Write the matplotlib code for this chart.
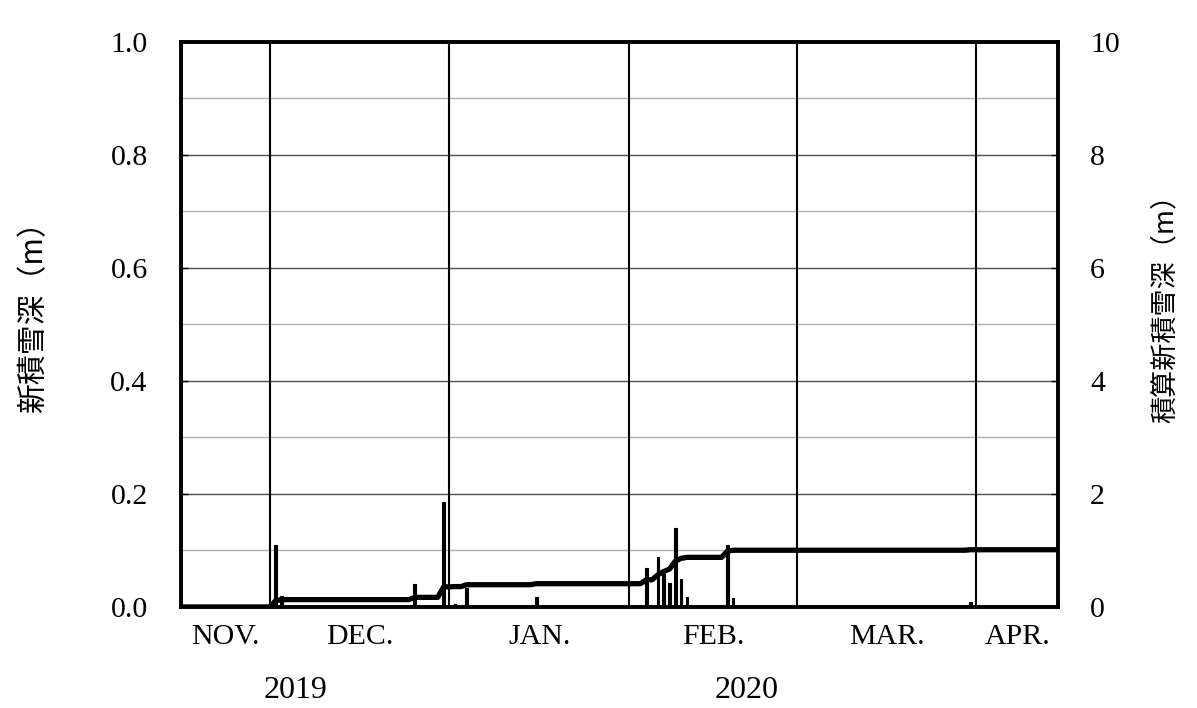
import matplotlib
matplotlib.use('Agg')
import matplotlib.pyplot as plt
import matplotlib.transforms as mtransforms
import numpy as np
import pandas as pd

# daily new snow depth (m) on days with snowfall
snow_dates = ['2019-12-02', '2019-12-03', '2019-12-26', '2019-12-31', '2020-01-02',
              '2020-01-04', '2020-01-16', '2020-02-04', '2020-02-06', '2020-02-07',
              '2020-02-08', '2020-02-09', '2020-02-10', '2020-02-11', '2020-02-18',
              '2020-02-19', '2020-03-31']
new_snow = [0.11, 0.02, 0.04, 0.186, 0.005,
            0.033, 0.018, 0.069, 0.089, 0.058,
            0.042, 0.14, 0.05, 0.018, 0.11,
            0.016, 0.009]

month_labels = ['NOV.', 'DEC.', 'JAN.', 'FEB.', 'MAR.', 'APR.']
month_starts = ['2019-12-01', '2020-01-01', '2020-02-01', '2020-03-01', '2020-04-01']
year_labels = ['2019', '2020']
year_label_dates = ['2019-12-05 10:00', '2020-02-21 06:00']

season_start = pd.Timestamp('2019-11-15 16:00')
season_end = pd.Timestamp('2020-04-15 02:00')

# build the daily record and the accumulated total
days = pd.date_range('2019-11-15', '2020-04-15', freq='D')
daily = pd.Series(0.0, index=days)
daily.loc[pd.to_datetime(snow_dates)] = new_snow
accum = daily.cumsum()

serif = 'Liberation Serif'
jp = ['Noto Sans CJK JP', 'DejaVu Sans']

fig = plt.figure(figsize=(11.97, 7.08), dpi=100)
ax = fig.add_axes([0.1512, 0.1427, 0.8839 - 0.1512, 0.9407 - 0.1427])
ax2 = ax.twinx()

# horizontal grid: darker every 0.2, lighter in between
for y in np.arange(0.1, 1.0, 0.1):
    major = round(y * 10) % 2 == 0
    ax.axhline(y, color='#505050' if major else '#b0b0b0', lw=1.0, zorder=1)

for m in pd.to_datetime(month_starts):
    ax.axvline(m, color='black', lw=1.5, zorder=2)

ax.bar(pd.to_datetime(snow_dates), new_snow, width=0.45, color='black',
       edgecolor='black', lw=0.8, zorder=3)
ax2.plot(accum.index, accum.values, color='black', lw=3.8, solid_joinstyle='round')

ax.set_xlim(season_start, season_end)
ax.set_ylim(0, 1.0)
ax2.set_ylim(0, 10)

ax.set_yticks(np.arange(0, 1.01, 0.2))
ax.set_yticklabels([f'{v:.1f}' for v in np.arange(0, 1.01, 0.2)],
                   fontfamily=serif, fontsize=21.5)
ax2.set_yticks(np.arange(0, 11, 2))
ax2.set_yticklabels([str(v) for v in range(0, 11, 2)], fontfamily=serif, fontsize=21.5)
ax.tick_params(axis='y', direction='in', length=5, width=1, pad=24)
ax2.tick_params(axis='y', direction='in', length=5, width=1, pad=23)

# month names centred in each visible month
bounds = [season_start] + list(pd.to_datetime(month_starts)) + [season_end]
centers = [bounds[i] + (bounds[i + 1] - bounds[i]) / 2 for i in range(len(bounds) - 1)]
ax.set_xticks(centers)
ax.set_xticklabels(month_labels, fontfamily=serif, fontsize=21.5)
ax.tick_params(axis='x', length=0, pad=12)

trans = mtransforms.blended_transform_factory(ax.transData, ax.transAxes)
for lab, d in zip(year_labels, pd.to_datetime(year_label_dates)):
    ax.text(d, -0.148, lab, transform=trans, ha='center', va='center',
            fontfamily=serif, fontsize=23)

for a in (ax, ax2):
    for s in a.spines.values():
        s.set_linewidth(2.6)

ax.set_ylabel('新積雪深（m）', fontfamily=jp, fontsize=21.5)
ax2.set_ylabel('積算新積雪深（m）', fontfamily=jp, fontsize=19.5, rotation=90)
ax.yaxis.set_label_coords(-0.150, 0.526)
ax2.yaxis.set_label_coords(1.107, 0.54)

fig.savefig('out.png', dpi=100, facecolor='white')
